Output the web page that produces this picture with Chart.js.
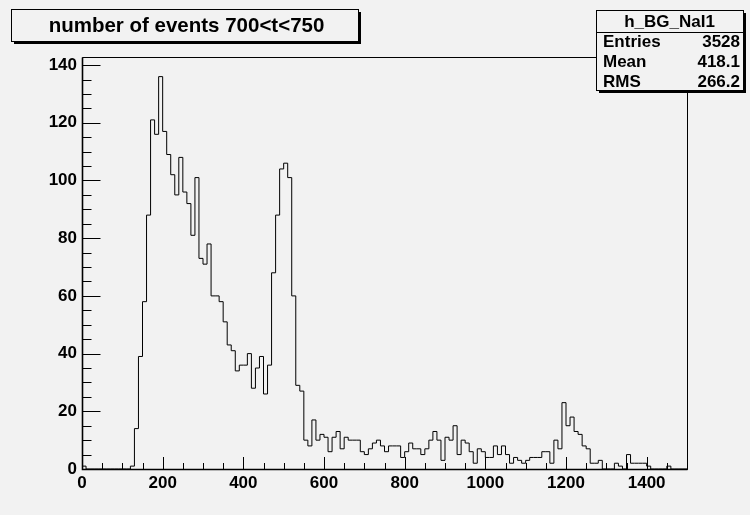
<!DOCTYPE html>
<html><head><meta charset="utf-8">
<script src="https://cdn.jsdelivr.net/npm/chart.js@4/dist/chart.umd.min.js"></script>
<style>html,body{margin:0;padding:0;background:#f2f2f2;}#wrap{width:750px;height:515px;}</style>
</head><body><div id="wrap"><canvas id="c" width="750" height="515"></canvas></div>
<script>
// ---- data ----
const titleText = "number of events 700<t<750";
const histName = "h_BG_NaI1";
const statsLabels = ["Entries", "Mean", "RMS"];
const statsValues = ["3528", "418.1", "266.2"];
const binLow = 0;
const binWidth = 10;
const counts = [
  1, 0, 0, 0, 0, 0, 0, 0, 0, 0,
  0, 0, 1, 14, 39, 58, 88, 121, 116, 136,
  117, 109, 102, 95, 108, 96, 92, 81, 101, 73,
  71, 78, 60, 60, 58, 51, 43, 41, 34, 36,
  36, 40, 28, 35, 39, 26, 36, 68, 88, 104,
  106, 101, 60, 29, 27, 10, 8, 17, 10, 12,
  11, 6, 11, 13, 7, 11, 10, 10, 10, 6,
  5, 7, 9, 10, 8, 6, 8, 8, 8, 4,
  6, 9, 7, 7, 5, 7, 10, 13, 10, 3,
  11, 10, 15, 5, 10, 9, 6, 2, 7, 6,
  4, 4, 8, 5, 8, 5, 2, 4, 3, 2,
  3, 4, 4, 4, 6, 6, 2, 10, 7, 23,
  15, 18, 13, 12, 8, 7, 2, 2, 3, 0,
  0, 0, 2, 1, 0, 5, 2, 2, 2, 2,
  1, 0, 0, 0, 0, 1, 0, 0, 0, 0
];
const xTickValues = [0, 200, 400, 600, 800, 1000, 1200, 1400];
const yTickValues = [0, 20, 40, 60, 80, 100, 120, 140];
const xMin = 0, xMax = 1500, yMin = 0, yMax = 142.8;
const xMinorStep = 50, yMinorStep = 5;

// ---- build histogram outline points ----
const pts = [{x: binLow, y: 0}];
counts.forEach((c, i) => pts.push({x: binLow + i * binWidth, y: c}));
pts.push({x: binLow + counts.length * binWidth, y: 0});

const BG = '#f2f2f2';
const FONT = "'Liberation Sans', Arial, Helvetica, sans-serif";

const rootPlugin = {
  id: 'rootStyle',
  beforeDraw(chart) {
    const ctx = chart.ctx;
    ctx.save();
    ctx.fillStyle = BG;
    ctx.fillRect(0, 0, chart.width, chart.height);
    ctx.restore();
  },
  afterDatasetsDraw(chart) {
    const {ctx, chartArea: a, scales: {x, y}} = chart;
    ctx.save();
    ctx.strokeStyle = '#000';
    ctx.lineWidth = 1;
    ctx.beginPath();
    const L = Math.round(a.left) + 0.5, R = Math.round(a.right) + 0.5;
    const T = Math.round(a.top) + 0.5, B = Math.round(a.bottom) + 0.5;
    ctx.moveTo(L, T); ctx.lineTo(R, T); ctx.lineTo(R, B); ctx.lineTo(L, B); ctx.closePath();
    for (let v = yMin; v <= yMax + 1e-9; v += yMinorStep) {
      const py = Math.round(y.getPixelForValue(v)) + 0.5;
      const major = yTickValues.includes(v);
      ctx.moveTo(L, py); ctx.lineTo(L + (major ? 18 : 9), py);
    }
    for (let v = xMin; v <= xMax + 1e-9; v += xMinorStep) {
      const px = Math.round(x.getPixelForValue(v)) + 0.5;
      const major = xTickValues.includes(v);
      ctx.moveTo(px, B); ctx.lineTo(px, B - (major ? 12.5 : 6.5));
    }
    ctx.stroke();
    ctx.beginPath();
    ctx.lineWidth = 1.6;
    ctx.moveTo(L, T); ctx.lineTo(L, B); ctx.lineTo(R, B);
    ctx.stroke();
    ctx.restore();
  },
  afterDraw(chart) {
    const ctx = chart.ctx;
    ctx.save();
    const tb = {x: 11, y: 9, w: 347, h: 32};
    ctx.fillStyle = '#000';
    ctx.fillRect(tb.x + 3, tb.y + 3, tb.w, tb.h);
    ctx.fillStyle = BG;
    ctx.fillRect(tb.x, tb.y, tb.w, tb.h);
    ctx.strokeStyle = '#000'; ctx.lineWidth = 1;
    ctx.strokeRect(tb.x + 0.5, tb.y + 0.5, tb.w, tb.h);
    ctx.fillStyle = '#000';
    ctx.font = "bold 20.5px " + FONT;
    ctx.textAlign = 'center'; ctx.textBaseline = 'middle';
    ctx.fillText(titleText, tb.x + tb.w / 2 + 2, tb.y + tb.h / 2 + 1);

    const sb = {x: 596, y: 10, w: 147, h: 80};
    ctx.fillStyle = '#000';
    ctx.fillRect(sb.x + 3, sb.y + 3, sb.w, sb.h);
    ctx.fillStyle = BG;
    ctx.fillRect(sb.x, sb.y, sb.w, sb.h);
    ctx.strokeRect(sb.x + 0.5, sb.y + 0.5, sb.w, sb.h);
    ctx.beginPath();
    ctx.moveTo(sb.x, sb.y + 22.5); ctx.lineTo(sb.x + sb.w, sb.y + 22.5);
    ctx.stroke();
    ctx.fillStyle = '#000';
    ctx.font = "bold 17px " + FONT;
    ctx.textAlign = 'center';
    ctx.fillText(histName, sb.x + sb.w / 2, sb.y + 12);
    statsLabels.forEach((lab, i) => {
      const yy = sb.y + 32 + i * 20;
      ctx.textAlign = 'left';
      ctx.fillText(lab, sb.x + 7, yy);
      ctx.textAlign = 'right';
      ctx.fillText(statsValues[i], sb.x + sb.w - 3, yy);
    });
    ctx.restore();
  }
};

const tickFont = {family: FONT, weight: 'bold', size: 17};

new Chart(document.getElementById('c'), {
  type: 'line',
  data: {
    datasets: [{
      data: pts,
      borderColor: '#000',
      borderWidth: 1,
      pointRadius: 0,
      fill: false,
      stepped: 'before',
      tension: 0
    }]
  },
  options: {
    responsive: false,
    animation: false,
    devicePixelRatio: 1,
    layout: {padding: {top: 57, right: 63, left: 0, bottom: 0}},
    plugins: {legend: {display: false}, tooltip: {enabled: false}, title: {display: false}},
    scales: {
      x: {
        type: 'linear', min: xMin, max: xMax,
        afterFit(s) { s.height = 46; },
        afterBuildTicks(s) { s.ticks = xTickValues.map(v => ({value: v})); },
        grid: {display: false, drawTicks: false},
        border: {display: false},
        ticks: {font: tickFont, color: '#000', padding: 4, maxRotation: 0, autoSkip: false,
                includeBounds: false, callback: v => String(v)}
      },
      y: {
        type: 'linear', min: yMin, max: yMax,
        afterFit(s) { s.width = 82; },
        afterBuildTicks(s) { s.ticks = yTickValues.map(v => ({value: v})); },
        grid: {display: false, drawTicks: false},
        border: {display: false},
        ticks: {font: tickFont, color: '#000', padding: 5, includeBounds: false,
                callback: v => String(v)}
      }
    }
  },
  plugins: [rootPlugin]
});
</script>
</body></html>
